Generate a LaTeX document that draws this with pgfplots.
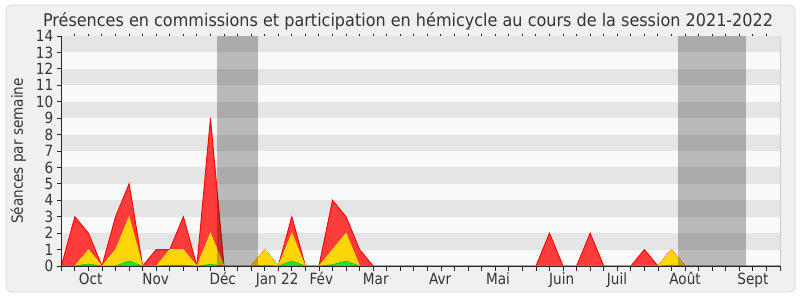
\documentclass[border=0pt]{standalone}
\usepackage{fontspec}
\setmainfont{DejaVu Sans}[FakeStretch=0.88]
\newfontfamily\titlefont{DejaVu Sans}[FakeStretch=0.92]
\usepackage{pgfplots}
\usepackage{pgfplotstable}
\pgfplotsset{compat=1.18}
\definecolor{bgout}{RGB}{240,240,240}
\definecolor{stripeD}{RGB}{229,229,229}
\definecolor{stripeL}{RGB}{249,249,249}
\definecolor{txt}{RGB}{51,51,51}
\definecolor{axl}{RGB}{40,40,40}
\definecolor{redf}{RGB}{255,60,60}
\definecolor{redl}{RGB}{255,0,0}
\definecolor{yelf}{RGB}{255,214,10}
\definecolor{yell}{RGB}{255,205,0}
\definecolor{grnf}{RGB}{40,225,40}
\definecolor{grnl}{RGB}{0,200,0}

\pgfplotstableread{
x y
0 0
1 3
2 2
3 0
4 3
5 5
6 0
7 1
8 1
9 3
10 0
11 9
12 0
13 0
14 0
15 1
16 0
17 3
18 0
19 0
20 4
21 3
22 1
23 0
24 0
25 0
26 0
27 0
28 0
29 0
30 0
31 0
32 0
33 0
34 0
35 0
36 2
37 0
38 0
39 2
40 0
41 0
42 0
43 1
44 0
45 1
46 0
47 0
48 0
49 0
50 0
51 0
52 0
53 0
}\redtab

\pgfplotstableread{
x y
0 0
1 0
2 1
3 0
4 1
5 3
6 0
7 0
8 1
9 1
10 0
11 2
12 0
13 0
14 0
15 1
16 0
17 2
18 0
19 0
20 1
21 2
22 0
23 0
44 0
45 1
46 0
53 0
}\yeltab

\pgfplotstableread{
x y
0 0
1 0
2 0.12
3 0
4 0
5 0.3
6 0
7 0
8 0.05
9 0.05
10 0
11 0.1
12 0
14 0
15 0.05
16 0
17 0.3
18 0
19 0
20 0.08
21 0.3
22 0
44 0
45 0.05
46 0
53 0
}\grntab

\begin{document}
\begin{tikzpicture}[x=1bp,y=1bp]
\fill[white] (0,0) rectangle (800,300);
\filldraw[fill=bgout, draw=white!86!black, line width=0.8bp, rounded corners=6bp] (6,8) rectangle (795,295);
\begin{axis}[
  at={(61.3bp,34bp)}, anchor=south west,
  scale only axis, width=718.7bp, height=230bp,
  xmin=0, xmax=53, ymin=0, ymax=14,
  axis on top,
  axis lines*=left,
  axis line style={axl, line width=1bp},
  every tick/.style={axl, line width=0.8bp},
  tick align=outside,
  major tick length=4.5bp,
  xtick={0,...,53}, xticklabels={},
  ytick={0,...,14},
  extra x ticks={2.17,6.96,11.91,15.92,19.18,23.19,27.94,32.2,36.9,40.98,46.0,51.0},
  extra x tick labels={Oct,Nov,Déc,Jan 22,Fév,Mar,Avr,Mai,Juin,Juil,Août,Sept},
  extra x tick style={major tick length=0pt, tick label style={anchor=base, yshift=-18.3bp}},
  tick label style={font=\fontsize{15.5}{18}\selectfont, text=txt},
  /pgf/number format/assume math mode=true,
  title={Présences en commissions et participation en hémicycle au cours de la session 2021-2022},
  every axis title/.style={at={(axis description cs:0.4824,1)}, anchor=base, yshift=9.3bp, font=\titlefont\fontsize{17.5}{20}\selectfont, text=txt},
  ylabel={Séances par semaine},
  every axis y label/.style={at={(axis description cs:-0.0598,0.5)}, rotate=90, anchor=center, font=\fontsize{15.5}{18}\selectfont, text=txt},
  clip=false,
]
\fill[stripeL] (axis cs:0,0) rectangle (axis cs:53,14);
\fill[stripeD] (axis cs:0,1) rectangle (axis cs:53,2);
\fill[stripeD] (axis cs:0,3) rectangle (axis cs:53,4);
\fill[stripeD] (axis cs:0,5) rectangle (axis cs:53,6);
\fill[stripeD] (axis cs:0,7) rectangle (axis cs:53,8);
\fill[stripeD] (axis cs:0,9) rectangle (axis cs:53,10);
\fill[stripeD] (axis cs:0,11) rectangle (axis cs:53,12);
\fill[stripeD] (axis cs:0,13) rectangle (axis cs:53,14);
\addplot[fill=redf, draw=redl, line width=0.9bp] table[x=x,y=y] {\redtab} \closedcycle;
\addplot[fill=yelf, draw=yell, line width=0.7bp] table[x=x,y=y] {\yeltab} \closedcycle;
\addplot[fill=grnf, draw=grnl, line width=0.6bp] table[x=x,y=y] {\grntab} \closedcycle;
\fill[black, opacity=0.25] (axis cs:11.5,0) rectangle (axis cs:14.5,14);
\fill[black, opacity=0.25] (axis cs:45.5,0) rectangle (axis cs:50.5,14);
\draw[white!80!black, line width=0.8bp] (axis cs:53,0) -- (axis cs:53,14);
\pgfplotsinvokeforeach{1,...,52}{\draw[axl, line width=1bp] (axis cs:#1,14) -- ++(0,1.5bp);}
\end{axis}
\pgfresetboundingbox
\useasboundingbox (0,0) rectangle (800,300);
\end{tikzpicture}
\end{document}
